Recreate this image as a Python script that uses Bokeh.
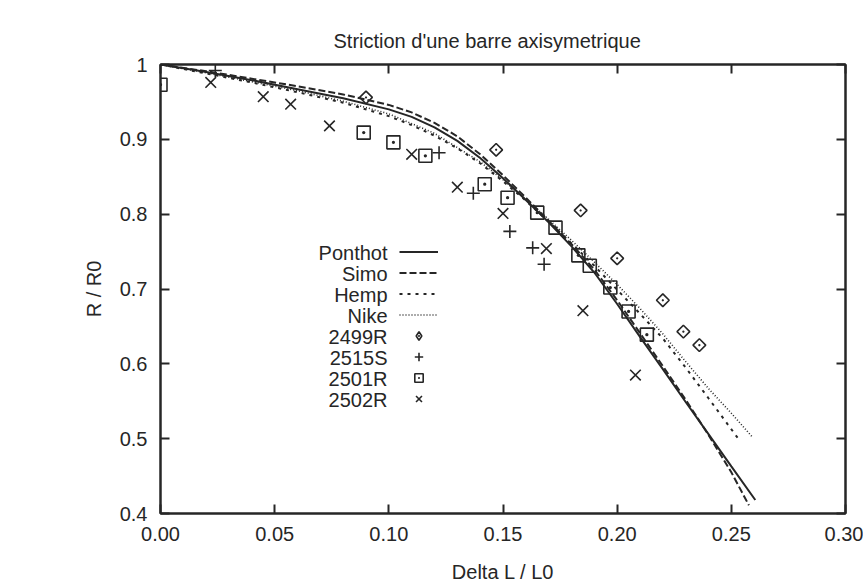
import math
from bokeh.plotting import figure
from bokeh.models import Range1d, FixedTicker, LinearAxis, Legend, LegendItem, Label
from bokeh.embed import file_html
from bokeh.resources import INLINE

# ---------------- data ----------------
title_text = "Striction d'une barre axisymetrique"
x_label = "Delta L / L0"
y_label = "R / R0"

x_ticks = [0.0, 0.05, 0.10, 0.15, 0.20, 0.25, 0.30]
x_tick_labels = ["0.00", "0.05", "0.10", "0.15", "0.20", "0.25", "0.30"]
y_ticks = [0.4, 0.5, 0.6, 0.7, 0.8, 0.9, 1.0]
y_tick_labels = ["0.4", "0.5", "0.6", "0.7", "0.8", "0.9", "1"]

ponthot_x = [0, 0.02, 0.04, 0.06, 0.08, 0.10, 0.11, 0.12, 0.13, 0.14, 0.15, 0.16,
             0.17, 0.18, 0.19, 0.20, 0.21, 0.22, 0.23, 0.24, 0.25, 0.2605]
ponthot_y = [1.000, 0.990, 0.979, 0.967, 0.955, 0.940, 0.930, 0.916, 0.898, 0.875, 0.848, 0.819,
             0.789, 0.757, 0.722, 0.680, 0.636, 0.593, 0.549, 0.506, 0.463, 0.418]

simo_x = [0, 0.02, 0.04, 0.06, 0.08, 0.10, 0.11, 0.12, 0.13, 0.14, 0.15, 0.16,
          0.17, 0.18, 0.19, 0.20, 0.21, 0.22, 0.23, 0.24, 0.25, 0.2577]
simo_y = [1.000, 0.991, 0.981, 0.971, 0.960, 0.946, 0.936, 0.922, 0.904, 0.880, 0.852, 0.822,
          0.791, 0.760, 0.726, 0.685, 0.641, 0.597, 0.552, 0.505, 0.455, 0.411]

hemp_x = [0, 0.02, 0.04, 0.06, 0.08, 0.10, 0.11, 0.12, 0.13, 0.14, 0.15, 0.16,
          0.17, 0.18, 0.19, 0.20, 0.21, 0.22, 0.23, 0.24, 0.254]
hemp_y = [1.000, 0.988, 0.976, 0.963, 0.949, 0.931, 0.919, 0.905, 0.888, 0.868, 0.844, 0.818,
          0.790, 0.761, 0.731, 0.699, 0.667, 0.634, 0.595, 0.554, 0.496]

nike_x = [0, 0.02, 0.04, 0.06, 0.08, 0.10, 0.12, 0.14, 0.15, 0.16, 0.17, 0.18,
          0.19, 0.20, 0.21, 0.22, 0.23, 0.24, 0.25, 0.259]
nike_y = [1.000, 0.989, 0.977, 0.965, 0.951, 0.934, 0.908, 0.870, 0.846, 0.820, 0.793, 0.765,
          0.736, 0.706, 0.674, 0.640, 0.603, 0.567, 0.534, 0.503]

s2499r_x = [0.090, 0.147, 0.184, 0.200, 0.220, 0.229, 0.236]
s2499r_y = [0.956, 0.886, 0.805, 0.741, 0.685, 0.643, 0.625]

s2515s_x = [0.024, 0.122, 0.137, 0.153, 0.163, 0.168]
s2515s_y = [0.992, 0.882, 0.828, 0.777, 0.755, 0.733]

s2501r_x = [0.0, 0.089, 0.102, 0.116, 0.142, 0.152, 0.165, 0.173, 0.183, 0.188, 0.197, 0.205, 0.213]
s2501r_y = [0.973, 0.909, 0.896, 0.878, 0.840, 0.822, 0.802, 0.782, 0.745, 0.731, 0.702, 0.670, 0.639]

s2502r_x = [0.022, 0.045, 0.057, 0.074, 0.110, 0.130, 0.150, 0.169, 0.185, 0.208]
s2502r_y = [0.976, 0.957, 0.947, 0.918, 0.880, 0.836, 0.801, 0.754, 0.671, 0.585]

series_names = ["Ponthot", "Simo", "Hemp", "Nike", "2499R", "2515S", "2501R", "2502R"]

# ---------------- style ----------------
INK = "#262626"
FONT = "Liberation Sans"
FS = "20px"

p = figure(width=863, height=588, output_backend="svg", toolbar_location=None,
           x_range=Range1d(0, 0.30), y_range=Range1d(0.4, 1.0),
           min_border_left=160, min_border_right=18, min_border_top=64, min_border_bottom=75)
p.background_fill_color = "white"
p.border_fill_color = "white"
p.outline_line_color = INK
p.outline_line_width = 2
p.xgrid.visible = False
p.ygrid.visible = False

p.title.text = title_text
p.title.align = "left"
p.title.offset = 173
p.title.text_font = FONT
p.title.text_font_size = FS
p.title.text_font_style = "normal"
p.title.text_color = INK
p.title.standoff = 25


def style_axis(ax, labels=True):
    ax.axis_line_color = INK
    ax.axis_line_width = 2
    ax.major_tick_line_color = INK
    ax.major_tick_line_width = 2
    ax.major_tick_in = 9
    ax.major_tick_out = 0
    ax.minor_tick_line_color = None
    ax.major_label_text_font = FONT
    ax.major_label_text_font_size = FS if labels else "1px"
    ax.major_label_text_color = INK if labels else None
    ax.axis_label_text_font = FONT
    ax.axis_label_text_font_size = FS
    ax.axis_label_text_font_style = "normal"
    ax.axis_label_text_color = INK


xa = p.xaxis[0]
ya = p.yaxis[0]
xa.ticker = FixedTicker(ticks=x_ticks)
ya.ticker = FixedTicker(ticks=y_ticks)
xa.major_label_overrides = dict(zip(x_ticks, x_tick_labels))
ya.major_label_overrides = dict(zip(y_ticks, y_tick_labels))
xa.axis_label = x_label
ya.axis_label = y_label
style_axis(xa)
style_axis(ya)
xa.major_label_standoff = 13
ya.major_label_standoff = 13
xa.axis_label_standoff = 17
ya.axis_label_standoff = 12

top = LinearAxis(ticker=FixedTicker(ticks=x_ticks))
right = LinearAxis(ticker=FixedTicker(ticks=y_ticks))
for ax in (top, right):
    style_axis(ax, labels=False)
    ax.major_label_standoff = 0
p.add_layout(top, "above")
p.add_layout(right, "right")

# ---------------- curves ----------------
r_ponthot = p.line(ponthot_x, ponthot_y, line_color=INK, line_width=2)
r_simo = p.line(simo_x, simo_y, line_color=INK, line_width=2, line_dash="7 3")
r_hemp = p.line(hemp_x, hemp_y, line_color=INK, line_width=2, line_dash="3 5")
r_nike = p.line(nike_x, nike_y, line_color=INK, line_width=1.6, line_dash="1 2")

# ---------------- points ----------------
# gnuplot diamonds are squares turned by 45 degrees
p.scatter(s2499r_x, s2499r_y, marker="square_dot", angle=math.pi / 4, size=9,
          fill_color=None, line_color=INK, line_width=1.6)
# same series with zero size: invisible in the plot, supplies the legend's diamond sample
r_2499 = p.scatter(s2499r_x, s2499r_y, marker="diamond_dot", size=0,
                   fill_color=None, line_color=INK, line_width=1.6)
r_2515 = p.scatter(s2515s_x, s2515s_y, marker="cross", size=13, line_color=INK, line_width=1.6)
r_2501 = p.scatter(s2501r_x, s2501r_y, marker="square_dot", size=13, fill_color=None,
                   line_color=INK, line_width=1.6)
r_2502 = p.scatter(s2502r_x, s2502r_y, marker="x", size=15, line_color=INK, line_width=1.6)

renderers = [r_ponthot, r_simo, r_hemp, r_nike, r_2499, r_2515, r_2501, r_2502]

# ---------------- legend (gnuplot style: right-aligned text, sample on the right) ----------------
ROW = 21
LEG_TOP = 261          # frame-relative y (from bottom) of the first row centre
TEXT_RIGHT = 227       # frame-relative x of the right edge of the texts
GLYPH_LEFT = 239       # frame-relative x of the sample column

for i, name in enumerate(series_names):
    p.add_layout(Label(x=TEXT_RIGHT, y=LEG_TOP - i * ROW, x_units="screen", y_units="screen",
                       text=name, text_align="right", text_baseline="middle",
                       text_font=FONT, text_font_size=FS, text_color=INK))

leg_glyph = Legend(items=[LegendItem(label=n, renderers=[r]) for n, r in zip(series_names, renderers)],
                   location=(GLYPH_LEFT, LEG_TOP - (len(series_names) - 1) * ROW - ROW // 2),
                   orientation="vertical",
                   glyph_width=39, glyph_height=ROW, label_height=ROW, label_standoff=0,
                   label_width=0, spacing=0, padding=0, margin=0,
                   label_text_font=FONT, label_text_font_size="8px", label_text_color=None,
                   background_fill_alpha=0, border_line_color=None)
p.add_layout(leg_glyph, "center")

open("out.html", "w").write(file_html(p, INLINE))
